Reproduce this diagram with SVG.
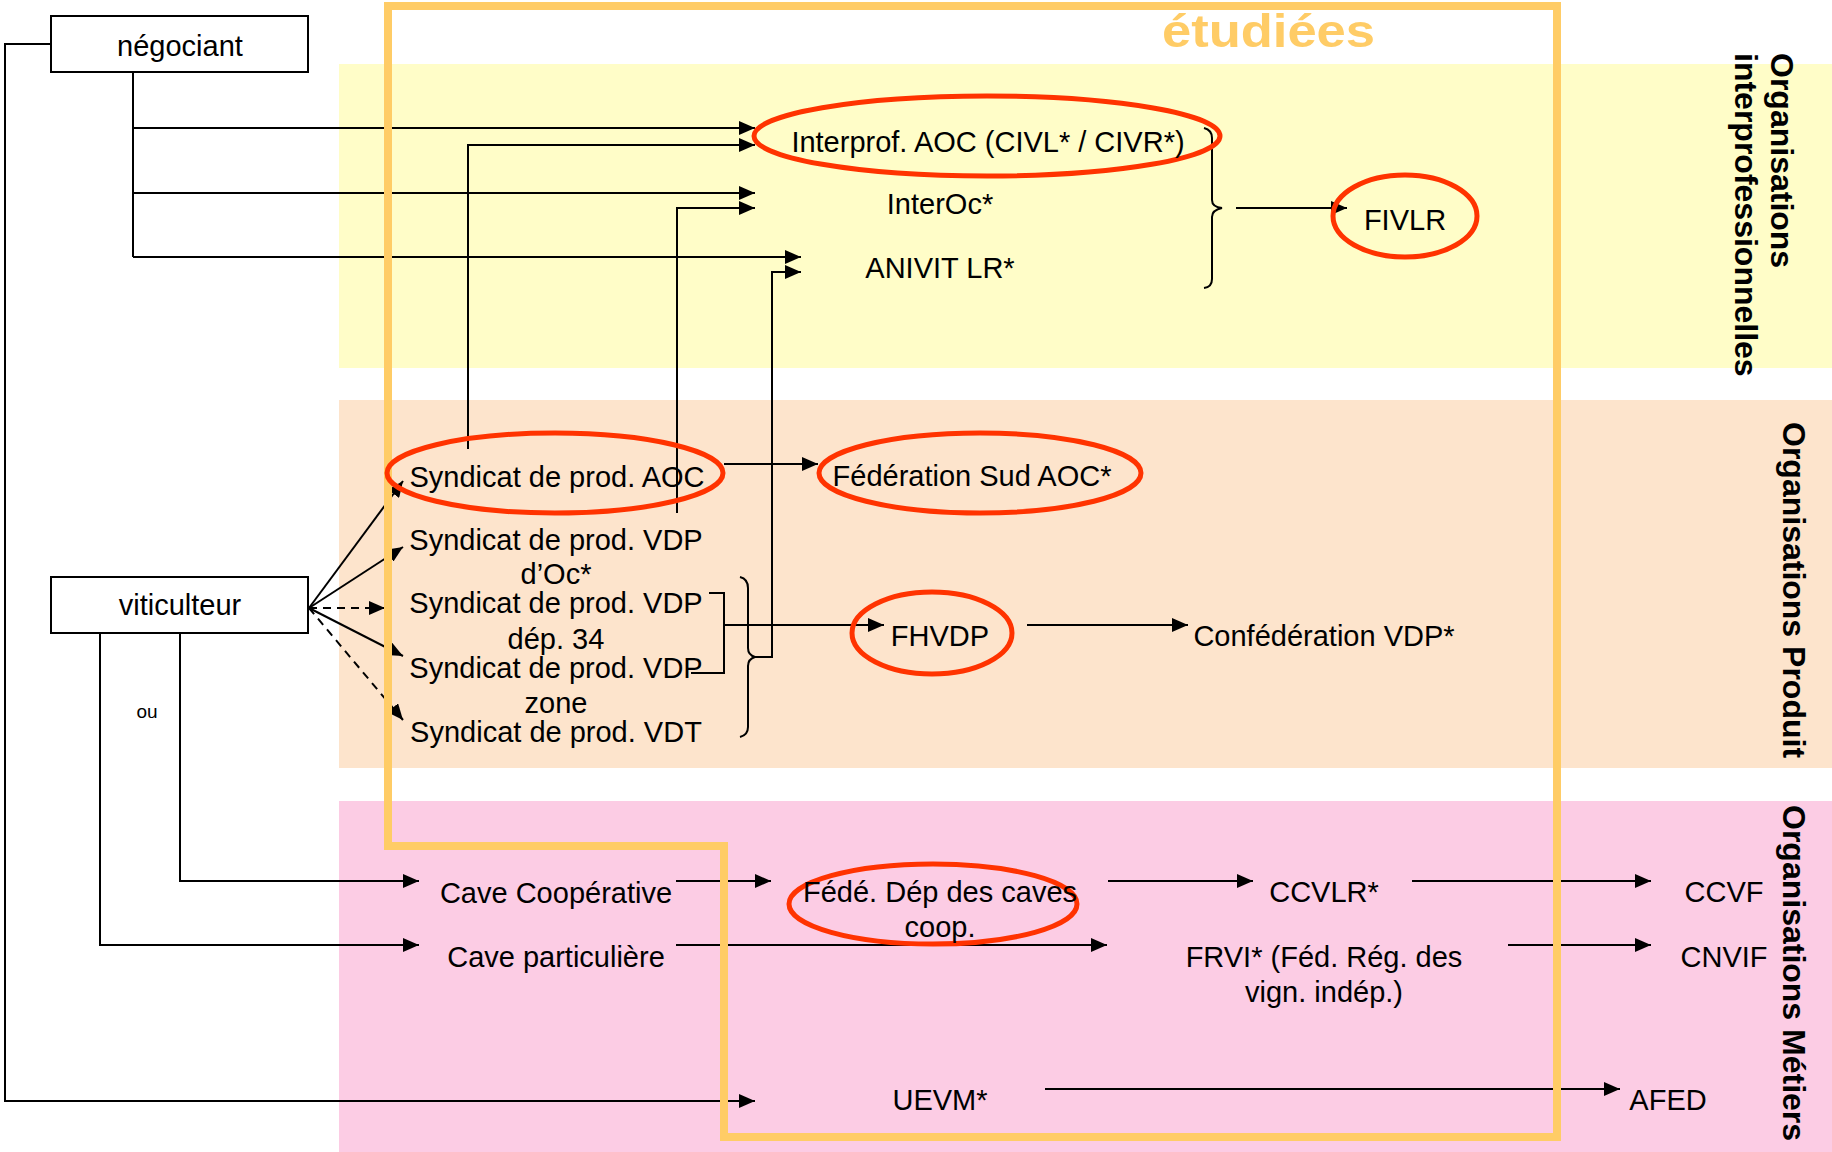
<svg xmlns="http://www.w3.org/2000/svg" width="1832" height="1152" viewBox="0 0 1832 1152">
<style>
.lbl{font-family:"Liberation Sans",Arial,sans-serif;font-size:29px;fill:#000;text-anchor:middle}
.side{font-family:"Liberation Sans",Arial,sans-serif;font-size:32px;font-weight:bold;fill:#000}
.ln{fill:none;stroke:#000;stroke-width:2}
.arr{marker-end:url(#ah)}
.dash{stroke-dasharray:8 6}
.ring{fill:none;stroke:#FF3300;stroke-width:5}
.box{fill:#fff;stroke:#000;stroke-width:2}
</style>
<defs>
<marker id="ah" markerUnits="userSpaceOnUse" markerWidth="16" markerHeight="14" viewBox="0 0 16 14" refX="16" refY="7" orient="auto">
<path d="M0,0 L16,7 L0,14 Z" fill="#000"/>
</marker>
</defs>
<rect width="1832" height="1152" fill="#fff"/>
<g id="bands">
<rect x="339" y="64" width="1493" height="304" fill="#FFFDC8"/>
<rect x="339" y="400" width="1493" height="368" fill="#FDE4CC"/>
<rect x="339" y="801" width="1493" height="351" fill="#FCCCE4"/>
</g>
<g id="side-labels">
<text class="side" transform="translate(1771,53) rotate(90)">Organisations</text>
<text class="side" transform="translate(1735,53) rotate(90)">interprofessionnelles</text>
<text class="side" transform="translate(1783,422) rotate(90)">Organisations  Produit</text>
<text class="side" transform="translate(1783,805) rotate(90)">Organisations  Métiers</text>
</g>
<g id="connectors">
<path class="ln" d="M51,44 H5 V1101 H755" marker-end="url(#ah)"/>
<path class="ln" d="M133,65 V257"/>
<path class="ln arr" d="M133,128 H755"/>
<path class="ln arr" d="M133,193 H755"/>
<path class="ln arr" d="M133,257 H801"/>
<path class="ln arr" d="M468,449 V145 H755"/>
<path class="ln arr" d="M677,513 V208 H755"/>
<path class="ln arr" d="M755,657 H772 V272 H801"/>
<path class="ln" d="M1204,128 Q1212,130 1212,138 V200 Q1212,207 1222,208 Q1212,210 1212,217 V279 Q1212,287 1204,288"/>
<path class="ln arr" d="M1236,208 H1347"/>
<path class="ln arr" d="M309,608 L403,481"/>
<path class="ln arr" d="M309,608 L403,547"/>
<path class="ln arr dash" d="M309,608 L385,608"/>
<path class="ln arr" d="M309,608 L403,656"/>
<path class="ln arr dash" d="M309,608 L403,720"/>
<path class="ln arr" d="M724,464 H818"/>
<path class="ln" d="M709,593 H724 V673 H691"/>
<path class="ln arr" d="M724,625 H884"/>
<path class="ln" d="M740,577 Q748,579 748,588 V648 Q748,655 755,657 Q748,659 748,666 V727 Q748,735 740,737"/>
<path class="ln arr" d="M1027,625 H1188"/>
<path class="ln arr" d="M180,625 V881 H419"/>
<path class="ln arr" d="M100,625 V945 H419"/>
<path class="ln arr" d="M676,881 H771"/>
<path class="ln arr" d="M676,945 H1107"/>
<path class="ln arr" d="M1108,881 H1253"/>
<path class="ln arr" d="M1412,881 H1651"/>
<path class="ln arr" d="M1508,945 H1651"/>
<path class="ln arr" d="M1045,1089 H1620"/>
</g>
<g id="scope">
<path d="M388,6 H1557 V1137 H724 V846 H388 Z" fill="none" stroke="#FFCC66" stroke-width="8"/>
<text x="1162" y="47" textLength="213" lengthAdjust="spacingAndGlyphs" font-family="Liberation Sans, Arial, sans-serif" font-size="46" font-weight="bold" fill="#FFCC66">étudiées</text>
</g>
<g id="negociant">
<rect class="box" x="51" y="16" width="257" height="56"/>
<text class="lbl" x="180" y="56">négociant</text>
</g>
<g id="viticulteur">
<rect class="box" x="51" y="577" width="257" height="56"/>
<text class="lbl" x="180" y="615">viticulteur</text>
</g>
<g id="ou">
<text x="147" y="718" font-family="Liberation Sans, Arial, sans-serif" font-size="19" text-anchor="middle">ou</text>
</g>
<g id="interprof-aoc">
<ellipse class="ring" cx="987" cy="136" rx="233" ry="40"/>
<text class="lbl" x="988" y="152">Interprof. AOC (CIVL* / CIVR*)</text>
</g>
<g id="interoc">
<text class="lbl" x="940" y="214">InterOc*</text>
</g>
<g id="anivit">
<text class="lbl" x="940" y="278">ANIVIT LR*</text>
</g>
<g id="fivlr">
<ellipse class="ring" cx="1405" cy="216" rx="72" ry="41"/>
<text class="lbl" x="1405" y="230">FIVLR</text>
</g>
<g id="synd-aoc">
<ellipse class="ring" cx="555" cy="473" rx="168" ry="40"/>
<text class="lbl" x="557" y="487">Syndicat de prod. AOC</text>
</g>
<g id="synd-vdp-oc">
<text class="lbl" x="556" y="550">Syndicat de prod. VDP</text>
<text class="lbl" x="556" y="584">d’Oc*</text>
</g>
<g id="synd-vdp-34">
<text class="lbl" x="556" y="613">Syndicat de prod. VDP</text>
<text class="lbl" x="556" y="649">dép. 34</text>
</g>
<g id="synd-vdp-zone">
<text class="lbl" x="556" y="678">Syndicat de prod. VDP</text>
<text class="lbl" x="556" y="713">zone</text>
</g>
<g id="synd-vdt">
<text class="lbl" x="556" y="742">Syndicat de prod. VDT</text>
</g>
<g id="fed-sud-aoc">
<ellipse class="ring" cx="980" cy="473" rx="161" ry="40"/>
<text class="lbl" x="972" y="486">Fédération Sud AOC*</text>
</g>
<g id="fhvdp">
<ellipse class="ring" cx="932" cy="633" rx="80" ry="41"/>
<text class="lbl" x="940" y="646">FHVDP</text>
</g>
<g id="confederation-vdp">
<text class="lbl" x="1324" y="646">Confédération VDP*</text>
</g>
<g id="cave-coop">
<text class="lbl" x="556" y="903">Cave Coopérative</text>
</g>
<g id="cave-part">
<text class="lbl" x="556" y="967">Cave particulière</text>
</g>
<g id="fede-dep">
<ellipse class="ring" cx="933" cy="904" rx="144" ry="40"/>
<text class="lbl" x="940" y="902">Fédé. Dép des caves</text>
<text class="lbl" x="940" y="937">coop.</text>
</g>
<g id="ccvlr">
<text class="lbl" x="1324" y="902">CCVLR*</text>
</g>
<g id="ccvf">
<text class="lbl" x="1724" y="902">CCVF</text>
</g>
<g id="frvi">
<text class="lbl" x="1324" y="967">FRVI* (Féd. Rég. des</text>
<text class="lbl" x="1324" y="1002">vign. indép.)</text>
</g>
<g id="cnvif">
<text class="lbl" x="1724" y="967">CNVIF</text>
</g>
<g id="uevm">
<text class="lbl" x="940" y="1110">UEVM*</text>
</g>
<g id="afed">
<text class="lbl" x="1668" y="1110">AFED</text>
</g>
</svg>
